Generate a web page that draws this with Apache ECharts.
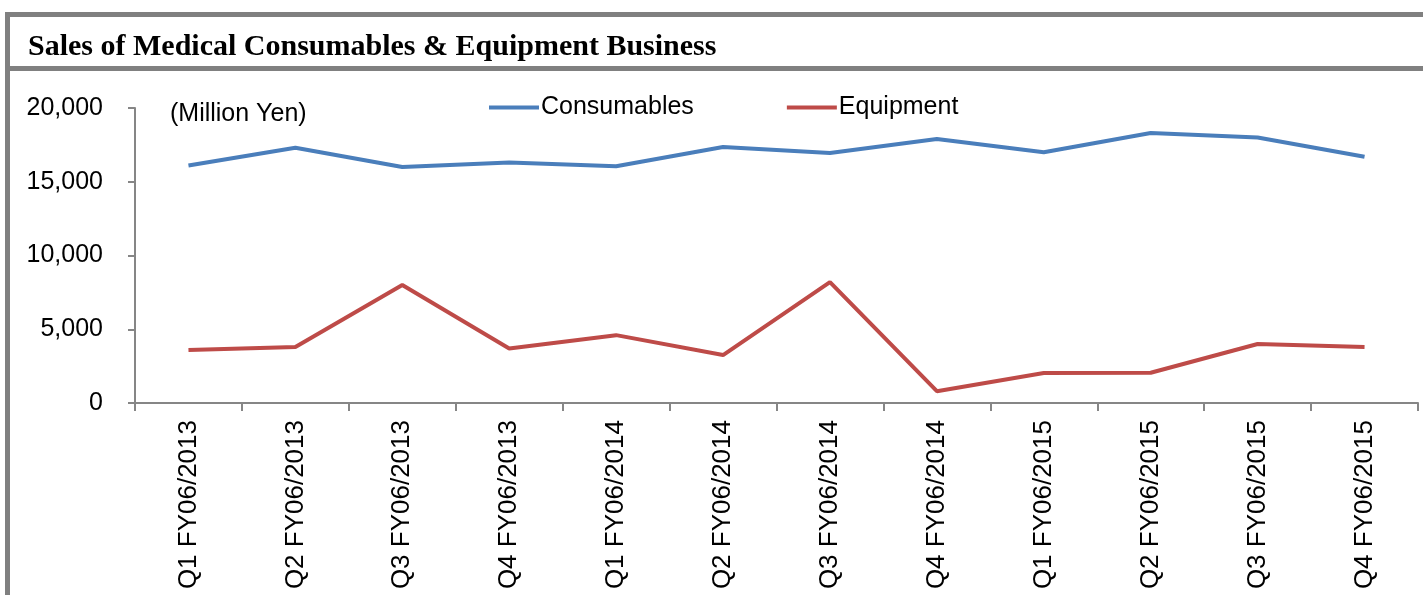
<!DOCTYPE html>
<html>
<head>
<meta charset="utf-8">
<style>
  html, body { margin: 0; padding: 0; background: #fff; }
  #chart { width: 1423px; height: 595px; }
</style>
<script src="https://cdn.jsdelivr.net/npm/echarts@6/dist/echarts.min.js"></script>
</head>
<body>
<div id="chart"></div>
<script>
var categories = ['Q1 FY06/2013', 'Q2 FY06/2013', 'Q3 FY06/2013', 'Q4 FY06/2013',
  'Q1 FY06/2014', 'Q2 FY06/2014', 'Q3 FY06/2014', 'Q4 FY06/2014',
  'Q1 FY06/2015', 'Q2 FY06/2015', 'Q3 FY06/2015', 'Q4 FY06/2015'];
var consumables = [16100, 17300, 16000, 16300, 16050, 17350, 16950, 17900, 17000, 18300, 18000, 16700];
var equipment = [3600, 3800, 8000, 3700, 4600, 3250, 8200, 800, 2030, 2050, 4000, 3800];

var myChart = echarts.init(document.getElementById('chart'));
var gray = '#808080';
var option = {
  animation: false,
  title: {
    text: 'Sales of Medical Consumables & Equipment Business',
    left: 23,
    top: 27,
    textStyle: { fontFamily: 'Liberation Serif', fontSize: 30, fontWeight: 'bold', color: '#000' }
  },
  graphic: [
    { type: 'rect', shape: { x: 5, y: 12, width: 1418, height: 5 }, style: { fill: gray } },
    { type: 'rect', shape: { x: 5, y: 66, width: 1418, height: 5 }, style: { fill: gray } },
    { type: 'rect', shape: { x: 5, y: 12, width: 5, height: 583 }, style: { fill: gray } },
    { type: 'text', left: 170, top: 102,
      style: { text: '(Million Yen)', font: '25px "Liberation Sans"', fill: '#000' } }
  ],
  legend: {
    top: 90,
    left: 484,
    itemGap: 93,
    itemWidth: 50,
    itemHeight: 4,
    icon: 'rect',
    textStyle: { fontFamily: 'Liberation Sans', fontSize: 25, color: '#000', padding: [0, 0, 0, -3] },
    data: ['Consumables', 'Equipment']
  },
  grid: { left: 135, right: 5, top: 108, bottom: 192, containLabel: false },
  xAxis: {
    type: 'category',
    data: categories,
    boundaryGap: true,
    axisLine: { lineStyle: { color: '#868686', width: 2 } },
    axisTick: { show: true, length: 8, alignWithLabel: false, lineStyle: { color: '#868686', width: 2 } },
    axisLabel: { rotate: 90, fontFamily: 'Liberation Sans', fontSize: 26, color: '#000', margin: 17, interval: 0 }
  },
  yAxis: {
    type: 'value',
    min: 0,
    max: 20000,
    interval: 5000,
    splitLine: { show: false },
    axisLine: { show: true, lineStyle: { color: '#868686', width: 2 } },
    axisTick: { show: true, length: 7, lineStyle: { color: '#868686', width: 2 } },
    axisLabel: {
      fontFamily: 'Liberation Sans', fontSize: 25, color: '#000', margin: 32,
      formatter: function (v) { return v.toLocaleString('en-US'); }
    }
  },
  series: [
    { name: 'Consumables', type: 'line', data: consumables, symbol: 'none',
      lineStyle: { color: '#4A7EBB', width: 4 }, itemStyle: { color: '#4A7EBB' } },
    { name: 'Equipment', type: 'line', data: equipment, symbol: 'none',
      lineStyle: { color: '#BE4B48', width: 4 }, itemStyle: { color: '#BE4B48' } }
  ]
};
myChart.setOption(option);
</script>
</body>
</html>
